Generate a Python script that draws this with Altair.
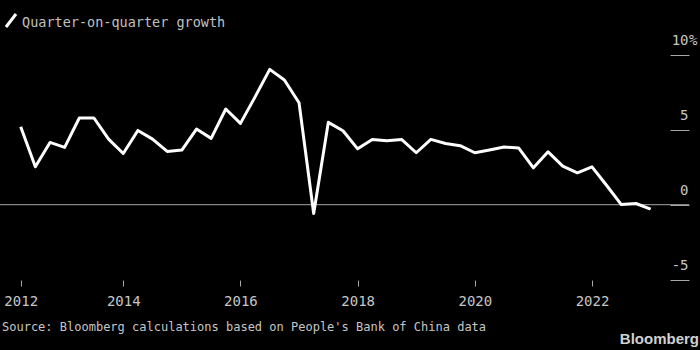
import altair as alt
import pandas as pd

# Quarter-on-quarter growth, Q1 2012 .. Q4 2022
quarters = [f"{y}Q{q}" for y in range(2012, 2023) for q in range(1, 5)]
growth = [5.2, 2.53, 4.16, 3.83, 5.79, 5.79, 4.38, 3.42, 4.96, 4.38, 3.56, 3.65,
          5.05, 4.43, 6.39, 5.43, 7.2, 9.04, 8.33, 6.81, -0.59, 5.5, 4.94, 3.73,
          4.36, 4.27, 4.36, 3.47, 4.36, 4.09, 3.94, 3.47, 3.65, 3.85, 3.78, 2.46,
          3.53, 2.58, 2.13, 2.53, 1.28, 0.01, 0.08, -0.3]
tick_quarters = ["2012Q1", "2013Q4", "2015Q4", "2017Q4", "2019Q4", "2021Q4"]
tick_labels = ["2012", "2014", "2016", "2018", "2020", "2022"]
y_ticks = [-5, 0, 5, 10]

title_text = "Quarter-on-quarter growth"
source_text = "Source: Bloomberg calculations based on People's Bank of China data"
logo_text = "Bloomberg"

df = pd.DataFrame({"i": list(range(len(quarters))), "quarter": quarters, "growth": growth})
tick_pos = [quarters.index(q) for q in tick_quarters]
label_expr = "".join(f"datum.value == {p} ? '{l}' : " for p, l in zip(tick_pos, tick_labels)) + "''"

FONT = "DejaVu Sans Mono"
GREY = "#c6c6c6"
LINEGREY = "#a6a6a6"
one = pd.DataFrame({"a": [0]})

x = alt.X("i:Q",
          scale=alt.Scale(domain=[-1.413, 45.62], nice=False, zero=False),
          axis=alt.Axis(values=tick_pos, labelExpr=label_expr, title=None, domain=False,
                        grid=False, ticks=True, tickSize=6, tickColor=LINEGREY, tickWidth=1,
                        labelColor=GREY, labelFont=FONT, labelFontSize=14, labelPadding=8,
                        labelFlush=False))
y = alt.Y("growth:Q",
          scale=alt.Scale(domain=[-5.03, 11.0], nice=False, zero=False),
          axis=alt.Axis(orient="right", values=y_ticks,
                        labelExpr="datum.value < 0 ? '-' + abs(datum.value) : '' + datum.value",
                        offset=-19, domain=False, grid=False, tickSize=19, tickColor=LINEGREY,
                        tickWidth=1, labelAlign="right", labelBaseline="alphabetic",
                        labelOffset=-10, labelPadding=-1, labelColor=GREY, labelFont=FONT,
                        labelFontSize=14, title=None))

zero = alt.Chart(one).mark_rule(color=LINEGREY, strokeWidth=1).encode(y=alt.datum(0))
line = alt.Chart(df).mark_line(color="white", strokeWidth=3, strokeJoin="round").encode(x=x, y=y)
pct = alt.Chart(one).mark_text(text="%", align="left", baseline="alphabetic", dy=-10,
                               font=FONT, fontSize=14, color=GREY).encode(
    x=alt.value(689), y=alt.datum(10))
title = alt.Chart(one).mark_text(text=title_text, align="left", baseline="alphabetic",
                                 font=FONT, fontSize=13.5, color="#c0c0c0").encode(
    x=alt.value(22), y=alt.value(-13))
slash = alt.Chart(one).mark_rule(color="white", strokeWidth=3).encode(
    x=alt.value(6), x2=alt.value(16), y=alt.value(-13), y2=alt.value(-26))
source = alt.Chart(one).mark_text(text=source_text, align="left", baseline="alphabetic",
                                  font=FONT, fontSize=12, color=GREY).encode(
    x=alt.value(2), y=alt.value(291))
logo = alt.Chart(one).mark_text(text=logo_text, align="right", baseline="alphabetic",
                                font="Liberation Sans", fontWeight="bold", fontSize=15,
                                color="#d0d0d0").encode(
    x=alt.value(699), y=alt.value(304))

chart = alt.layer(zero, line, pct, title, slash, source, logo).properties(
    width=689, height=240, background="#000000",
    padding={"left": 0, "top": 40, "right": 11, "bottom": 70},
    autosize=alt.AutoSizeParams(type="none"),
).configure_view(stroke=None)

chart.save("out.html", embed_options={"renderer": "svg", "actions": False})
